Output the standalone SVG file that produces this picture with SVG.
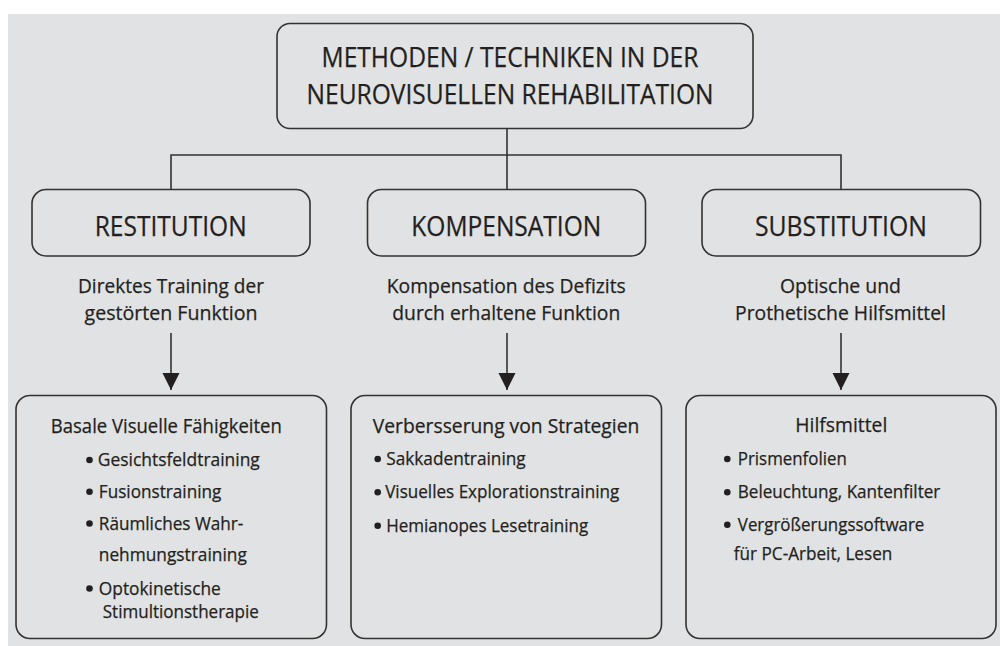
<svg xmlns="http://www.w3.org/2000/svg" width="1000" height="646" viewBox="0 0 1000 646">
<style>
text{font-family:"Open Sans","Noto Sans","Liberation Sans",sans-serif;fill:#231f20;stroke:#231f20;stroke-width:0.25;}
.box{fill:none;stroke:#333;stroke-width:1.6;}
.conn{stroke:#333;stroke-width:1.6;fill:none;}
.t1{font-size:27px;}
.t2{font-size:20.5px;}
.t3{font-size:18.5px;}
.c{text-anchor:middle;}
.b{fill:#231f20;}
</style>
<defs>
<marker id="ah" markerWidth="18" markerHeight="18" refX="17" refY="8.5" orient="auto" markerUnits="userSpaceOnUse">
<path d="M0,0 L17,8.5 L0,17 Z" fill="#231f20"/>
</marker>
</defs>
<rect x="8" y="14" width="992" height="632" fill="#e1e2e3"/>

<g id="connectors">
<path class="conn" d="M507,129 V189 M171,189 V155 H841 V189"/>
<line class="conn" x1="171" y1="333" x2="171" y2="390" marker-end="url(#ah)"/>
<line class="conn" x1="507" y1="333" x2="507" y2="390" marker-end="url(#ah)"/>
<line class="conn" x1="841" y1="333" x2="841" y2="390" marker-end="url(#ah)"/>
</g>

<g id="root">
<rect class="box" x="277" y="23.5" width="476" height="105" rx="13"/>
<text class="t1" x="321.5" y="67" textLength="377" lengthAdjust="spacingAndGlyphs">METHODEN / TECHNIKEN IN DER</text>
<text class="t1" x="306.5" y="103.5" textLength="407" lengthAdjust="spacingAndGlyphs">NEUROVISUELLEN REHABILITATION</text>
</g>

<g id="restitution">
<rect class="box" x="32" y="189.5" width="278" height="66.5" rx="14"/>
<text class="t1 c" x="170.7" y="236" textLength="152" lengthAdjust="spacingAndGlyphs">RESTITUTION</text>
<text class="t2 c" x="171" y="293" textLength="186" lengthAdjust="spacingAndGlyphs">Direktes Training der</text>
<text class="t2 c" x="171" y="320" textLength="173" lengthAdjust="spacingAndGlyphs">gestörten Funktion</text>
</g>

<g id="kompensation">
<rect class="box" x="367.5" y="189.5" width="278" height="66.5" rx="14"/>
<text class="t1 c" x="506.3" y="235.5" textLength="190" lengthAdjust="spacingAndGlyphs">KOMPENSATION</text>
<text class="t2 c" x="506.3" y="293" textLength="239" lengthAdjust="spacingAndGlyphs">Kompensation des Defizits</text>
<text class="t2 c" x="506.3" y="319.5" textLength="228" lengthAdjust="spacingAndGlyphs">durch erhaltene Funktion</text>
</g>

<g id="substitution">
<rect class="box" x="702" y="189.5" width="278.5" height="66.5" rx="14"/>
<text class="t1 c" x="840.9" y="235.5" textLength="172" lengthAdjust="spacingAndGlyphs">SUBSTITUTION</text>
<text class="t2 c" x="840.5" y="293" textLength="121" lengthAdjust="spacingAndGlyphs">Optische und</text>
<text class="t2 c" x="840.5" y="319.5" textLength="211" lengthAdjust="spacingAndGlyphs">Prothetische Hilfsmittel</text>
</g>

<g id="basale">
<rect class="box" x="16" y="395.5" width="310.5" height="243" rx="14"/>
<text class="t2 c" x="166.3" y="433" textLength="231" lengthAdjust="spacingAndGlyphs">Basale Visuelle Fähigkeiten</text>
<circle class="b" cx="89.5" cy="460" r="3.3"/>
<text class="t3" x="97.8" y="466" textLength="162" lengthAdjust="spacingAndGlyphs">Gesichtsfeldtraining</text>
<circle class="b" cx="89.5" cy="491.7" r="3.3"/>
<text class="t3" x="98.8" y="497.7" textLength="122.5" lengthAdjust="spacingAndGlyphs">Fusionstraining</text>
<circle class="b" cx="89.5" cy="523.5" r="3.3"/>
<text class="t3" x="98.8" y="529.5" textLength="144.5" lengthAdjust="spacingAndGlyphs">Räumliches Wahr-</text>
<text class="t3" x="98.8" y="561" textLength="148" lengthAdjust="spacingAndGlyphs">nehmungstraining</text>
<circle class="b" cx="89.5" cy="588.5" r="3.3"/>
<text class="t3" x="98.8" y="594.5" textLength="122" lengthAdjust="spacingAndGlyphs">Optokinetische</text>
<text class="t3" x="102.8" y="618" textLength="156" lengthAdjust="spacingAndGlyphs">Stimultionstherapie</text>
</g>

<g id="strategien">
<rect class="box" x="351" y="395.5" width="310.5" height="243" rx="14"/>
<text class="t2" x="372.8" y="432.7" textLength="266.5" lengthAdjust="spacingAndGlyphs">Verbersserung von Strategien</text>
<circle class="b" cx="377.7" cy="459" r="3.3"/>
<text class="t3" x="386.2" y="465" textLength="139.5" lengthAdjust="spacingAndGlyphs">Sakkadentraining</text>
<circle class="b" cx="377.7" cy="492.3" r="3.3"/>
<text class="t3" x="385.2" y="498.3" textLength="234" lengthAdjust="spacingAndGlyphs">Visuelles Explorationstraining</text>
<circle class="b" cx="377.7" cy="525.7" r="3.3"/>
<text class="t3" x="386.2" y="531.7" textLength="202" lengthAdjust="spacingAndGlyphs">Hemianopes Lesetraining</text>
</g>

<g id="hilfsmittel">
<rect class="box" x="686" y="395.5" width="310" height="243" rx="14"/>
<text class="t2 c" x="841.3" y="431.7" textLength="92" lengthAdjust="spacingAndGlyphs">Hilfsmittel</text>
<circle class="b" cx="727.3" cy="459" r="3.3"/>
<text class="t3" x="737.8" y="465" textLength="109" lengthAdjust="spacingAndGlyphs">Prismenfolien</text>
<circle class="b" cx="727.3" cy="492.3" r="3.3"/>
<text class="t3" x="737.8" y="498.3" textLength="202.5" lengthAdjust="spacingAndGlyphs">Beleuchtung, Kantenfilter</text>
<circle class="b" cx="727.3" cy="524.7" r="3.3"/>
<text class="t3" x="737.8" y="530.7" textLength="186.5" lengthAdjust="spacingAndGlyphs">Vergrößerungssoftware</text>
<text class="t3" x="733.8" y="560" textLength="158.5" lengthAdjust="spacingAndGlyphs">für PC-Arbeit, Lesen</text>
</g>
</svg>
